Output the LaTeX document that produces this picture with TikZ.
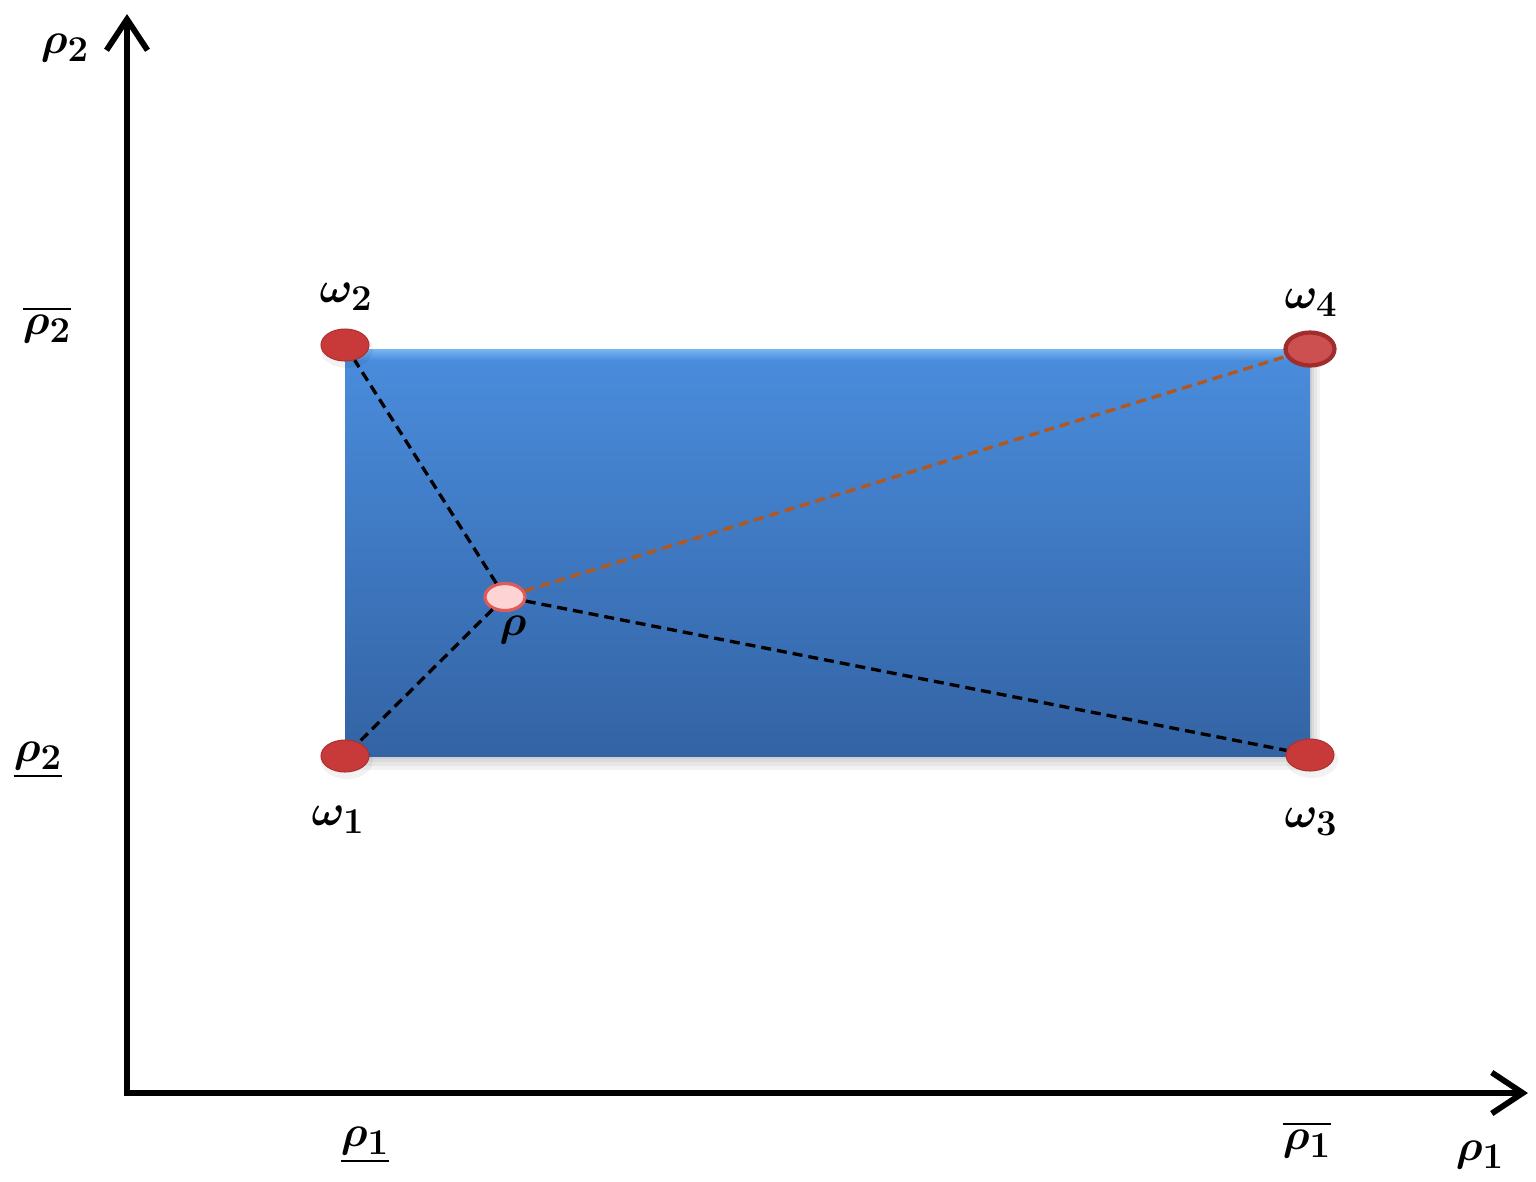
\documentclass[tikz,border=0pt]{standalone}
\usepackage{amsmath}
\usetikzlibrary{arrows.meta,shapes.geometric}
\definecolor{ptred}{HTML}{C83A3A}
\definecolor{ptedge}{HTML}{B03030}
\definecolor{ringred}{HTML}{A02C2C}
\definecolor{innerred}{HTML}{CC5050}
\definecolor{rhofill}{HTML}{FDD3D3}
\definecolor{rhoedge}{HTML}{E05A5A}
\definecolor{boxtop}{HTML}{4A8DDD}
\definecolor{boxbot}{HTML}{3363A4}
\definecolor{boxhl}{HTML}{78B6F2}
\definecolor{brownline}{HTML}{B5561A}
\tikzset{
  axis/.style={line width=3.3pt,-{Straight Barb[length=0.62cm,width=0.82cm,line width=3.3pt]}},
  corner/.style={ellipse,fill=ptred,draw=ptedge,line width=0.6pt,minimum width=0.96cm,minimum height=0.64cm,inner sep=0pt},
  cornerring/.style={ellipse,fill=innerred,draw=ringred,line width=2.4pt,minimum width=0.98cm,minimum height=0.66cm,inner sep=0pt},
  rhopt/.style={ellipse,fill=rhofill,draw=rhoedge,line width=1.8pt,minimum width=0.8cm,minimum height=0.54cm,inner sep=0pt},
  dline/.style={line width=1.9pt,dash pattern=on 0.2cm off 0.12cm},
  lbl/.style={inner sep=0pt,font=\fontsize{24.88}{28}\selectfont},
  softshadow/.style={fill=black,opacity=0.05}
}
\begin{document}
\begin{tikzpicture}[x=0.02cm,y=-0.02cm]
\useasboundingbox (0,0) rectangle (1536,1181);
% soft shadow of the box
\fill[softshadow] (345,352) rectangle (1320,770);
\fill[softshadow] (345,352) rectangle (1317,766);
\fill[softshadow] (345,352) rectangle (1314,762);
\fill[softshadow] (345,352) rectangle (1312,759);
% box
\shade[top color=boxtop,bottom color=boxbot] (345,349) rectangle (1310,756);
\shade[top color=boxhl,bottom color=boxtop] (345,349) rectangle (1310,360);
% axes
\coordinate (O) at (127,1093);
\coordinate (ytip) at (127,14);
\coordinate (xtip) at (1528,1093);
\draw[axis] (O) -- (ytip);
\draw[axis] ([xshift=-1.65pt]O) -- (xtip);
% point shadows
\fill[softshadow] (347,761) ellipse (26 and 18);
\fill[softshadow] (347,350) ellipse (26 and 18);
\fill[softshadow] (1312,760) ellipse (26 and 18);
% points
\node[corner] (w1) at (345,756) {};
\node[corner] (w2) at (345,345) {};
\node[corner] (w3) at (1310,755) {};
\node[cornerring] (w4) at (1310,349) {};
\node[rhopt] (rho) at (505,597) {};
% dashed lines
\draw[dline,black] (rho) -- (w2);
\draw[dline,black] (rho) -- (w1);
\draw[dline,black] (rho) -- (w3);
\draw[dline,brownline] (rho) -- (w4);
% labels
\node[lbl] (lw2) at (346,297) {$\boldsymbol{\omega_2}$};
\node[lbl] (lw4) at (1311,303) {$\boldsymbol{\omega_4}$};
\node[lbl] (lw1) at (338,820) {$\boldsymbol{\omega_1}$};
\node[lbl] (lw3) at (1311,822) {$\boldsymbol{\omega_3}$};
\node[lbl] (lrho) at (513,630) {$\boldsymbol{\rho}$};
\node[lbl] (ly) at (65,48) {$\boldsymbol{\rho_2}$};
\node[lbl] (lyhi) at (47,325) {$\overline{\boldsymbol{\rho_2}}$};
\node[lbl] (lylo) at (38,760) {$\underline{\boldsymbol{\rho_2}}$};
\node[lbl] (lxlo) at (365,1145) {$\underline{\boldsymbol{\rho_1}}$};
\node[lbl] (lxhi) at (1307,1140) {$\overline{\boldsymbol{\rho_1}}$};
\node[lbl] (lx) at (1480,1155) {$\boldsymbol{\rho_1}$};
\end{tikzpicture}
\end{document}
